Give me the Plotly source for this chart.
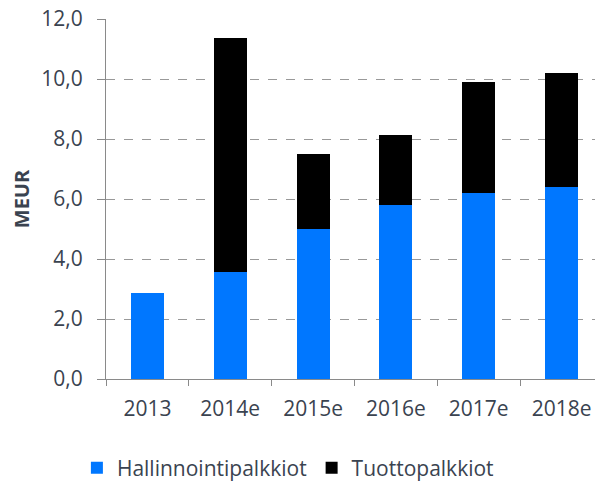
import plotly.graph_objects as go

categories = ["2013", "2014e", "2015e", "2016e", "2017e", "2018e"]
hallinnointi = [2.87, 3.57, 5.0, 5.8, 6.2, 6.4]
tuotto = [0.0, 7.8, 2.5, 2.33, 3.7, 3.8]
y_ticks = [0, 2, 4, 6, 8, 10, 12]
y_tick_labels = ["0,0", "2,0", "4,0", "6,0", "8,0", "10,0", "12,0"]

font_fam = "Open Sans, sans-serif"
txt = "#3a4350"
fs = 21

fig = go.Figure()
fig.add_trace(go.Bar(x=categories, y=hallinnointi, name="Hallinnointipalkkiot",
                     marker=dict(color="#0077ff", line=dict(width=0))))
fig.add_trace(go.Bar(x=categories, y=tuotto, name="Tuottopalkkiot",
                     marker=dict(color="#000000", line=dict(width=0))))

# page body has an 8px default margin, so the figure is sized to fit the window
fig.update_layout(
    barmode="stack",
    bargap=0.6,
    width=595, height=474,
    margin=dict(l=98, r=0, t=11, b=103),
    paper_bgcolor="white", plot_bgcolor="white",
    font=dict(family=font_fam, size=fs, color=txt),
    showlegend=True,
    legend=dict(orientation="h", x=0.366, xanchor="center",
                yref="container", y=0.0295, yanchor="middle",
                font=dict(size=fs, color=txt), traceorder="normal",
                itemwidth=30, tracegroupgap=0),
    xaxis=dict(showline=True, linecolor="#8a8a8a", linewidth=1,
               ticks="outside", tickson="boundaries", ticklen=6, tickcolor="#8a8a8a",
               ticklabelstandoff=11, automargin=False,
               tickfont=dict(size=fs, color=txt), showgrid=False),
    yaxis=dict(range=[0, 12], tickvals=y_ticks, ticktext=y_tick_labels,
               showline=True, linecolor="#8a8a8a", linewidth=1,
               ticks="outside", ticklen=8, tickcolor="#8a8a8a",
               ticklabelstandoff=10, automargin=False, ticklabeloverflow="allow",
               showgrid=True, gridcolor="#999999", griddash="dash", gridwidth=1,
               zeroline=False,
               tickfont=dict(size=fs, color=txt),
               title=dict(text="<b>MEUR</b>", font=dict(size=20, color=txt), standoff=14)),
)

fig.write_html("out.html")
